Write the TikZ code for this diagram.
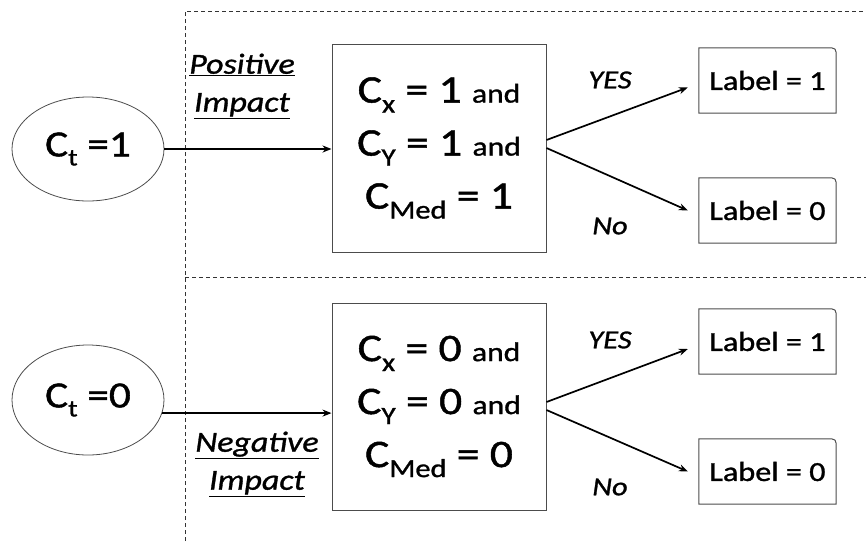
\documentclass[tikz,border=0pt]{standalone}
\usepackage{fontspec}
\setmainfont{Carlito}[FakeStretch=1.17,FakeBold=1.1]
\usetikzlibrary{shapes.geometric,arrows.meta}
\newcommand{\lowsub}[3]{\raisebox{-#2pt}{\fontsize{#1}{#1}\selectfont #3}}
\begin{document}
\begin{tikzpicture}[x=1pt,y=-1pt,
  cond/.style={draw=black!70,line width=1pt,minimum width=214pt,minimum height=208pt,inner sep=0pt,align=center,font=\fontsize{39}{53}\selectfont},
  oval/.style={ellipse,draw=black!70,line width=0.8pt,minimum width=152pt,minimum height=104pt,inner sep=0pt,font=\fontsize{37}{37}\selectfont},
  lab/.style={minimum width=137pt,minimum height=65pt,inner sep=0pt,font=\fontsize{27.5}{27.5}\selectfont},
  imp/.style={align=center,font=\fontsize{29}{38}\selectfont\itshape},
  yn/.style={font=\fontsize{26}{26}\selectfont\itshape},
  sep/.style={dash pattern=on 4pt off 3pt,line width=1pt,black!80},
  arr/.style={-{Stealth[length=9pt,width=7pt]},line width=1.7pt},
  labframe/.style={draw=black!70,line width=1pt}]
\useasboundingbox (0,0) rectangle (866,541);
% separators
\coordinate (vt) at (185,11);
\coordinate (vb) at (185,541);
\coordinate (ht) at (866,11);
\coordinate (ml) at (185,277);
\coordinate (mr) at (866,277);
\draw[sep] (vb) -- (vt) -- (ht);
\draw[sep] (ml) -- (mr);
% top half
\node[oval] (e1) at (88,149) {C\lowsub{24}{9}{t} =1};
\node[cond] (b1) at (439,148) {C\lowsub{26}{10}{x} = 1 {\fontsize{27}{27}\selectfont and}\\C\lowsub{25}{10}{Y} = 1 {\fontsize{27}{27}\selectfont and}\\C\lowsub{26}{10}{Med} = 1};
\node[lab] (l11) at (767.5,80.5) {Label = 1};
\node[lab] (l10) at (767.5,210.5) {Label = 0};
\node[imp] (pi) at (242,86) {\underline{Positive}\\\underline{Impact}};
\node[yn] (y1) at (610,80) {YES};
\node[yn] (n1) at (610,226) {No};
% bottom half
\node[oval,minimum height=110pt] (e0) at (88,400) {C\lowsub{24}{9}{t} =0};
\node[cond,minimum height=207pt] (b0) at (439,406.5) {C\lowsub{26}{10}{x} = 0 {\fontsize{27}{27}\selectfont and}\\C\lowsub{25}{10}{Y} = 0 {\fontsize{27}{27}\selectfont and}\\C\lowsub{26}{10}{Med} = 0};
\node[lab] (l01) at (767.5,341.5) {Label = 1};
\node[lab] (l00) at (767.5,471.5) {Label = 0};
\node[imp] (ni) at (257,464) {\underline{Negative}\\\underline{Impact}};
\node[yn] (y0) at (610,340) {YES};
\node[yn] (n0) at (610,487) {No};
% label frames, top-right corner rounded
\foreach \n in {l11,l10,l01,l00}{
  \draw[labframe] (\n.south west) -- (\n.north west) -- ([xshift=-10pt]\n.north east) .. controls (\n.north east) .. ([yshift=-10pt]\n.north east) -- (\n.south east) -- cycle;
}
% connectors
\draw[arr] (e1.east) -- (e1.east -| b1.west);
\draw[arr] (e0.-10.8) -- (e0.-10.8 -| b0.west);
\draw[arr] ([yshift=8pt]b1.east) -- ([xshift=-11pt,yshift=-7pt]l11.west);
\draw[arr] (b1.east) -- ([xshift=-11pt]l10.west);
\draw[arr] ([yshift=4.5pt]b0.east) -- ([xshift=-11pt,yshift=-7.5pt]l01.west);
\draw[arr] ([yshift=-3.5pt]b0.east) -- ([xshift=-11pt]l00.west);
\end{tikzpicture}
\end{document}
